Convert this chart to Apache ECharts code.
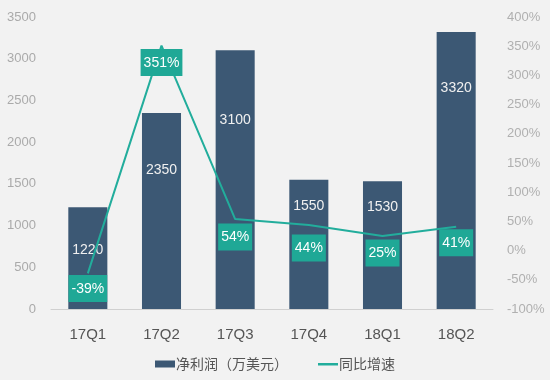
<!DOCTYPE html>
<html><head><meta charset="utf-8">
<script src="https://cdn.jsdelivr.net/npm/echarts@6/dist/echarts.min.js"></script>
<style>html,body{margin:0;padding:0;background:#f2f2f2}#c{width:550px;height:380px}</style>
</head><body><div id="c"></div>
<script>
const categories = ['17Q1','17Q2','17Q3','17Q4','18Q1','18Q2'];
const profit = [1220, 2350, 3100, 1550, 1530, 3320];
const growth = [-39, 351, 54, 44, 25, 41];
const leftTicks = {min: 0, max: 3500, interval: 500};
const rightTicks = {min: -100, max: 400, interval: 50};

// label placement styling (pixel distances), separate from data
const barLabelDist = [36, 50, 63, 19, 19, 49];
const lineLabelDist = [1, 3, 4, 9, 3, 2];

const chart = echarts.init(document.getElementById('c'));
chart.setOption({
  backgroundColor: '#f2f2f2',
  animation: false,
  grid: {left: 51, right: 57, top: 17, bottom: 71},
  legend: {
    top: 352, left: 'center', itemGap: 30, itemWidth: 20, itemHeight: 9,
    textStyle: {color: '#555', fontSize: 14, fontFamily: 'Noto Sans CJK SC', padding: [0, 0, 0, -4]},
    data: [
      {name: '净利润（万美元）', icon: 'path://M0 1 L20 1 L20 8 L0 8 Z M0 0 L0.01 0 M0 9 L0.01 9'},
      {name: '同比增速', icon: 'path://M0 0 L0.01 0 M0 3.5 L20 3.5 L20 6 L0 6 Z M0 9 L0.01 9'}
    ]
  },
  xAxis: {
    type: 'category', data: categories,
    axisLine: {lineStyle: {color: '#d0d0d0'}}, axisTick: {show: false},
    axisLabel: {color: '#555', fontSize: 15, margin: 18, fontFamily: 'Liberation Sans'}
  },
  yAxis: [{
    type: 'value', min: leftTicks.min, max: leftTicks.max, interval: leftTicks.interval,
    splitLine: {show: false}, axisLine: {show: false}, axisTick: {show: false},
    axisLabel: {color: '#aaa', fontSize: 13, margin: 15, formatter: v => String(v), fontFamily: 'Liberation Sans'}
  }, {
    type: 'value', min: rightTicks.min, max: rightTicks.max, interval: rightTicks.interval,
    splitLine: {show: false}, axisLine: {show: false}, axisTick: {show: false},
    axisLabel: {color: '#b0b0b0', fontSize: 13, margin: 14, formatter: '{value}%', fontFamily: 'Liberation Sans'}
  }],
  series: [{
    name: '净利润（万美元）', type: 'bar', barWidth: '53%', yAxisIndex: 0,
    itemStyle: {color: '#3c5874'},
    data: profit.map((v, i) => ({value: v, label: {distance: barLabelDist[i]}})),
    label: {show: true, position: 'insideTop', color: '#f0f0f0', fontSize: 14, fontFamily: 'Liberation Sans'}
  }, {
    name: '同比增速', type: 'line', yAxisIndex: 1, symbol: 'none',
    lineStyle: {color: '#22ad9c', width: 2}, itemStyle: {color: '#22ad9c'},
    data: growth, z: 3
  }, {
    name: 'growthLabels', type: 'scatter', yAxisIndex: 1, symbolSize: 1, z: 5,
    itemStyle: {color: 'rgba(0,0,0,0)', opacity: 1}, silent: true,
    data: growth.map((v, i) => ({value: v, label: {distance: lineLabelDist[i]}})),
    label: {show: true, position: 'bottom', formatter: p => p.value + '%', color: '#fff', fontSize: 14,
      backgroundColor: '#1fa896', padding: [7, 3, 6, 3], fontFamily: 'Liberation Sans'}
  }]
});
</script></body></html>
